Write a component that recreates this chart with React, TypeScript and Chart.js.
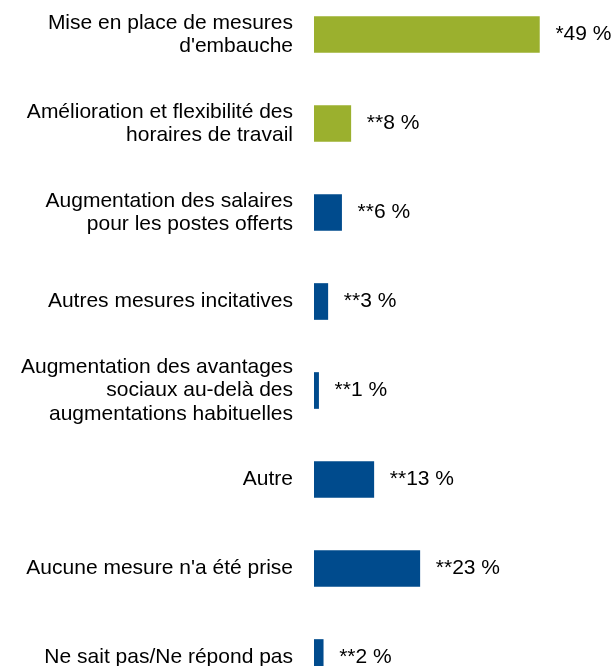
import React, { useEffect, useRef } from "react";
import { Chart, registerables } from "chart.js";

Chart.register(...registerables);

const categories: (string | string[])[] = [
  ["Mise en place de mesures", "d'embauche"],
  ["Amélioration et flexibilité des", "horaires de travail"],
  ["Augmentation des salaires", "pour les postes offerts"],
  "Autres mesures incitatives",
  ["Augmentation des avantages", "sociaux au-delà des", "augmentations habituelles"],
  "Autre",
  "Aucune mesure n'a été prise",
  "Ne sait pas/Ne répond pas",
];

const values: number[] = [49, 8, 6, 3, 1, 13, 23, 2];

const valueLabels: string[] = ["*49 %", "**8 %", "**6 %", "**3 %", "**1 %", "**13 %", "**23 %", "**2 %"];

const GREEN = "#9bb02e";
const BLUE = "#004b8d";
const barColors: string[] = [GREEN, GREEN, BLUE, BLUE, BLUE, BLUE, BLUE, BLUE];

const FONT = "'Liberation Sans', Arial, sans-serif";

const valueLabelPlugin = {
  id: "valueLabels",
  afterDatasetsDraw(chart: any) {
    const ctx = chart.ctx;
    const meta = chart.getDatasetMeta(0);
    ctx.save();
    ctx.font = `21px ${FONT}`;
    ctx.fillStyle = "#000";
    ctx.textAlign = "left";
    ctx.textBaseline = "middle";
    meta.data.forEach((bar: any, i: number) => {
      ctx.fillText(valueLabels[i], bar.x + 16, bar.y);
    });
    ctx.restore();
  },
};

export default function App() {
  const canvasRef = useRef<HTMLCanvasElement | null>(null);

  useEffect(() => {
    if (!canvasRef.current) return;
    const chart = new Chart(canvasRef.current, {
      type: "bar",
      data: {
        labels: categories,
        datasets: [
          {
            data: values,
            backgroundColor: barColors,
            borderWidth: 0,
            barThickness: 36,
          },
        ],
      },
      options: {
        indexAxis: "y",
        animation: false,
        responsive: true,
        maintainAspectRatio: false,
        layout: { padding: 0 },
        plugins: {
          legend: { display: false },
          tooltip: { enabled: false },
        },
        scales: {
          x: {
            display: false,
            min: 0,
            max: 65,
          },
          y: {
            grid: { display: false, drawTicks: false },
            border: { display: false },
            ticks: {
              color: "#000",
              padding: 21,
              font: { family: FONT, size: 21, lineHeight: 1.12 },
            },
            afterFit(scale: any) {
              scale.width = 314;
              scale.paddingTop = 0;
              scale.paddingBottom = 0;
            },
          },
        },
      },
      plugins: [valueLabelPlugin],
    });
    return () => chart.destroy();
  }, []);

  return (
    <div style={{ position: "fixed", left: 0, top: -10, width: 613, height: 712 }}>
      <canvas ref={canvasRef} />
    </div>
  );
}
